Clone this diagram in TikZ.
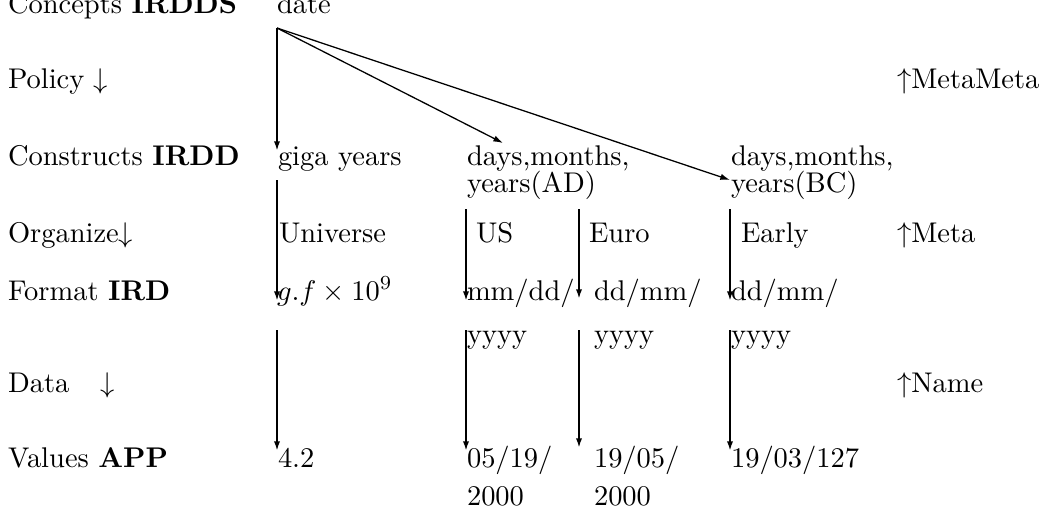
\documentclass[tikz,border=0pt]{standalone}
\usetikzlibrary{arrows.meta}
\begin{document}
\begin{tikzpicture}[x=0.351pt,y=-0.351pt,
  lbl/.style={anchor=base west,inner sep=0pt,outer sep=0pt},
  con/.style={line width=0.45pt,-{Latex[length=3.4pt,width=2.2pt]}},
  vcon/.style={line width=0.7pt,-{Latex[length=3.4pt,width=2.2pt]}}]
\useasboundingbox (0,0) rectangle (1050,515);
% left column
\node[lbl] (c1) at (8,13) {Concepts \textbf{IRDDS}};
\node[lbl] (c2) at (8,88) {Policy $\downarrow$};
\node[lbl] (c3) at (8,165) {Constructs \textbf{IRDD}};
\node[lbl] (c4) at (8,242) {Organize$\downarrow$};
\node[lbl] (c5) at (8,300) {Format \textbf{IRD}};
\node[lbl] (c6) at (8,392) {Data\hspace{1.1em}$\downarrow$};
\node[lbl] (c7) at (8,467) {Values \textbf{APP}};
% right column
\node[lbl] (r1) at (897,88) {$\uparrow$MetaMeta};
\node[lbl] (r2) at (897,242) {$\uparrow$Meta};
\node[lbl] (r3) at (897,392) {$\uparrow$Name};
% content
\node[lbl] (date) at (277,13) {date};
\node[lbl] (giga) at (278,165) {giga years};
\node[lbl] (ad1) at (467,165) {days,months,};
\node[lbl] (ad2) at (467,192) {years(AD)};
\node[lbl] (bc1) at (731,165) {days,months,};
\node[lbl] (bc2) at (731,192) {years(BC)};
\node[lbl] (univ) at (279,242) {Universe};
\node[lbl] (us) at (476,242) {US};
\node[lbl] (euro) at (589,242) {Euro};
\node[lbl] (early) at (741,242) {Early};
\node[lbl] (gf) at (277,300) {$g.f \times 10^9$};
\node[lbl] (usf1) at (467,300) {mm/dd/};
\node[lbl] (usf2) at (467,343) {yyyy};
\node[lbl] (euf1) at (594,300) {dd/mm/};
\node[lbl] (euf2) at (594,343) {yyyy};
\node[lbl] (eaf1) at (731,300) {dd/mm/};
\node[lbl] (eaf2) at (731,343) {yyyy};
\node[lbl] (v1) at (278,467) {4.2};
\node[lbl] (v2a) at (467,467) {05/19/};
\node[lbl] (v2b) at (467,505) {2000};
\node[lbl] (v3a) at (594,467) {19/05/};
\node[lbl] (v3b) at (594,505) {2000};
\node[lbl] (v4) at (731,467) {19/03/127};
% connector end points
\coordinate (top) at (277,28);
\coordinate (tg) at (277,151);
\coordinate (tad) at (503,143);
\coordinate (tbc) at (730,180);
\coordinate (g1) at (277,180); \coordinate (g2) at (277,301);
\coordinate (g3) at (277,330); \coordinate (g4) at (277,451);
\coordinate (u1) at (466,209); \coordinate (u2) at (466,301);
\coordinate (u3) at (466,330); \coordinate (u4) at (466,451);
\coordinate (e1) at (579,209); \coordinate (e2) at (579,299);
\coordinate (e3) at (579,330); \coordinate (e4) at (579,448);
\coordinate (a1) at (730,209); \coordinate (a2) at (730,301);
\coordinate (a3) at (730,330); \coordinate (a4) at (730,451);
% connectors
\draw[vcon] (top) -- (tg);
\draw[con] (top) -- (tad);
\draw[con] (top) -- (tbc);
\draw[vcon] (g1) -- (g2);
\draw[vcon] (g3) -- (g4);
\draw[vcon] (u1) -- (u2);
\draw[vcon] (u3) -- (u4);
\draw[vcon] (e1) -- (e2);
\draw[vcon] (e3) -- (e4);
\draw[vcon,line width=0.9pt] (a1) -- (a2);
\draw[vcon,line width=0.9pt] (a3) -- (a4);
\end{tikzpicture}
\end{document}
